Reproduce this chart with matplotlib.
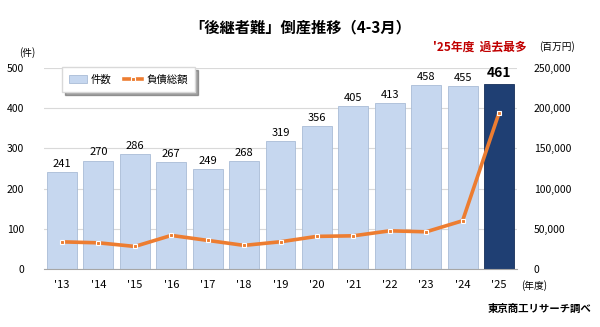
import matplotlib
matplotlib.use("Agg")
import matplotlib.pyplot as plt
import numpy as np

plt.rcParams['font.family'] = ['Noto Sans CJK JP', 'DejaVu Sans']

years = ["'13", "'14", "'15", "'16", "'17", "'18", "'19", "'20", "'21", "'22", "'23", "'24", "'25"]
cases = [241, 270, 286, 267, 249, 268, 319, 356, 405, 413, 458, 455, 461]
debt = [33900, 32700, 28200, 41900, 35700, 29500, 34000, 40700, 41400, 47600, 46400, 60100, 194000]

light = '#c6d7ef'
dark = '#1f3f73'
orange = '#ed7d31'

fig = plt.figure(figsize=(6, 3.27), dpi=100)
ax = fig.add_axes([0.073, 0.177, 0.789, 0.615])
x = np.arange(len(years))
colors = [light] * (len(years) - 1) + [dark]
edges = ['#a9bcd6'] * (len(years) - 1) + ['#16305a']
bars = ax.bar(x, cases, width=0.82, color=colors, edgecolor=edges, linewidth=0.6,
              zorder=2, label='件数')
ax.set_ylim(0, 500)
ax.set_xlim(-0.5, len(years) - 0.5)
ax.set_yticks(range(0, 501, 100))
ax.tick_params(axis='y', length=0, labelsize=7.5, pad=14)
ax.tick_params(axis='x', length=0, labelsize=8, pad=8)
ax.set_xticks(x)
ax.set_xticklabels(years)
ax.grid(axis='y', color='#d9d9d9', linewidth=0.8, zorder=0)
for s in ['top', 'right', 'left']:
    ax.spines[s].set_visible(False)
ax.spines['bottom'].set_color('#a6a6a6')

for i, v in enumerate(cases):
    last = i == len(cases) - 1
    ax.text(i, v + 8, str(v), ha='center', va='bottom',
            fontsize=10 if last else 8, fontweight='bold' if last else 'normal',
            color='black')

ax2 = ax.twinx()
ax2.set_ylim(0, 250000)
ax2.set_yticks(range(0, 250001, 50000))
ax2.set_yticklabels([f'{v:,}' for v in range(0, 250001, 50000)])
ax2.tick_params(axis='y', length=0, labelsize=7.5, pad=12)
for s in ['top', 'right', 'left', 'bottom']:
    ax2.spines[s].set_visible(False)
line, = ax2.plot(x, debt, color=orange, linewidth=2.6, marker='s', markersize=3.5,
                 markerfacecolor=orange, markeredgecolor='white', markeredgewidth=0.8,
                 zorder=3, label='負債総額')

leg = ax.legend([bars, line], ['件数', '負債総額'], loc='upper left', ncol=2,
                bbox_to_anchor=(0.027, 1.03), frameon=True, shadow=True, fancybox=False,
                fontsize=7.5, handlelength=1.7, handletextpad=0.4, columnspacing=1.2,
                borderpad=0.7)
leg.get_frame().set_edgecolor('#d9d9d9')
leg.set_zorder(5)

fig.text(0.5, 0.917, '「後継者難」倒産推移（4-3月）', ha='center', va='center',
         fontsize=11, fontweight='bold')
fig.text(0.045, 0.84, '(件)', ha='center', va='center', fontsize=7)
fig.text(0.928, 0.858, '(百万円)', ha='center', va='center', fontsize=7)
fig.text(0.80, 0.855, "'25年度  過去最多", ha='center', va='center', fontsize=8.5,
         fontweight='bold', color='#c00000')
fig.text(0.89, 0.128, '(年度)', ha='center', va='center', fontsize=7)
fig.text(0.985, 0.055, '東京商工リサーチ調べ', ha='right', va='center', fontsize=7.5,
         fontweight='bold')

fig.savefig('out.png', dpi=100)
